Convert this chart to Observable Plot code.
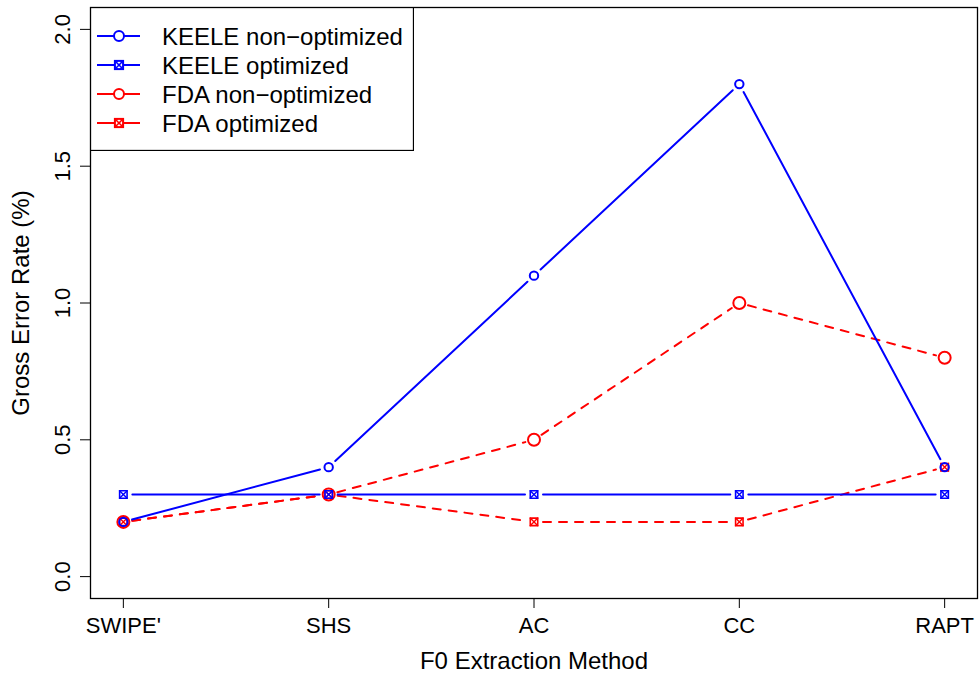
<!DOCTYPE html>
<html><head><meta charset="utf-8">
<script src="https://cdn.jsdelivr.net/npm/d3@7"></script>
<script src="https://cdn.jsdelivr.net/npm/@observablehq/plot@0.6"></script>
<style>
body{margin:0;background:#fff;}
#wrap{position:relative;width:980px;height:677px;font-family:"Liberation Sans",Arial,sans-serif;}
#legend{position:absolute;left:90px;top:7px;}
</style>
</head><body><div id="wrap"></div>
<script>
const methods = ["SWIPE'", "SHS", "AC", "CC", "RAPT"];
const keeleNonOpt = [0.2, 0.4, 1.1, 1.8, 0.4];
const keeleOpt = [0.3, 0.3, 0.3, 0.3, 0.3];
const fdaNonOpt = [0.2, 0.3, 0.5, 1.0, 0.8];
const fdaOpt = [0.2, 0.3, 0.2, 0.2, 0.4];
const seriesNames = ["KEELE non\u2212optimized", "KEELE optimized", "FDA non\u2212optimized", "FDA optimized"];
const yTicks = [0, 0.5, 1.0, 1.5, 2.0];
const xTitle = "F0 Extraction Method";
const yTitle = "Gross Error Rate (%)";

const series = [
  {name: seriesNames[0], values: keeleNonOpt, color: "#0000ff", dash: null, marker: "circle", r: 4.2},
  {name: seriesNames[1], values: keeleOpt, color: "#0000ff", dash: null, marker: "boxx", r: 4.2},
  {name: seriesNames[2], values: fdaNonOpt, color: "#ff0000", dash: "8,8", marker: "circle", r: 6},
  {name: seriesNames[3], values: fdaOpt, color: "#ff0000", dash: "8,8", marker: "boxx", r: 4.2}
];

const W = 980, H = 677, mL = 90, mR = 3, mT = 7, mB = 79;
const xDom = [-0.16, methods.length - 1 + 0.16];
const yDom = [-0.08, 2.08];
const kx = (W - mL - mR) / (xDom[1] - xDom[0]);
const ky = (H - mT - mB) / (yDom[1] - yDom[0]);
const GAP = 9;

function segments(vals) {
  const segs = [];
  for (let k = 0; k < vals.length - 1; k++) {
    const v0 = vals[k], v1 = vals[k + 1];
    const len = Math.hypot(kx, (v1 - v0) * ky);
    if (len <= 2 * GAP) continue;
    const t = GAP / len;
    segs.push({x1: k + t, y1: v0 + t * (v1 - v0), x2: k + 1 - t, y2: v1 - t * (v1 - v0)});
  }
  return segs;
}
const pts = s => s.values.map((v, i) => ({i, v}));
const idx = methods.map((_, i) => i);

const lineMarks = [];
for (const s of [series[2], series[3], series[0], series[1]]) {
  lineMarks.push(Plot.link(segments(s.values), {x1: "x1", y1: "y1", x2: "x2", y2: "y2",
    stroke: s.color, strokeWidth: 2, strokeDasharray: s.dash, strokeLinecap: "round"}));
}
const markerMarks = [];
for (const s of [series[2], series[3], series[0], series[1]]) {
  if (s.marker === "circle") {
    markerMarks.push(Plot.dot(pts(s), {x: "i", y: "v", r: s.r, stroke: s.color, fill: "none", strokeWidth: 2}));
  } else {
    markerMarks.push(Plot.dot(pts(s), {x: "i", y: "v", r: s.r, symbol: "square", stroke: s.color, fill: "none", strokeWidth: 1.6}));
    markerMarks.push(Plot.dot(pts(s), {x: "i", y: "v", r: s.r * 0.9, symbol: "times", stroke: s.color, strokeWidth: 1.4}));
  }
}

const plot = Plot.plot({
  width: W, height: H,
  marginLeft: mL, marginRight: mR, marginTop: mT, marginBottom: mB,
  style: {fontFamily: "'Liberation Sans', Arial, sans-serif", fontSize: "22px", background: "#fff", overflow: "visible"},
  x: {type: "linear", domain: xDom},
  y: {type: "linear", domain: yDom},
  marks: [
    Plot.axisX({ticks: idx, tickSize: 10, tickFormat: () => "", label: null, stroke: "#000", strokeWidth: 1}),
    Plot.axisY({ticks: yTicks, tickSize: 10, tickFormat: () => "", label: null, stroke: "#000", strokeWidth: 1}),
    Plot.text(idx, {x: d => d, frameAnchor: "bottom", dy: 27, text: d => methods[d], lineAnchor: "middle", textAnchor: "middle", fontSize: 22, fill: "#000"}),
    Plot.text(yTicks, {y: d => d, frameAnchor: "left", dx: -28, rotate: -90, text: d => d3.format(".1f")(d), lineAnchor: "middle", textAnchor: "middle", fontSize: 22, fill: "#000"}),
    Plot.text([xTitle], {frameAnchor: "bottom", dy: 63, text: d => d, lineAnchor: "middle", textAnchor: "middle", fontSize: 24, fill: "#000"}),
    Plot.text([yTitle], {frameAnchor: "left", dx: -69, rotate: -90, text: d => d, lineAnchor: "middle", textAnchor: "middle", fontSize: 24, fill: "#000"}),
    ...lineMarks,
    ...markerMarks,
    Plot.frame({stroke: "#000", strokeWidth: 1.3})
  ]
});
document.getElementById("wrap").appendChild(plot);

// Legend (drawn as an overlay)
const LW = 323, LH = 143, rowH = 29, row0 = 29;
const leg = d3.select("#wrap").append("svg").attr("id", "legend")
  .attr("width", LW + 1).attr("height", LH + 1);
leg.append("rect").attr("x", 0.5).attr("y", 0.5).attr("width", LW).attr("height", LH)
  .attr("fill", "#fff").attr("stroke", "#000").attr("stroke-width", 1.3);
series.forEach((s, i) => {
  const y = row0 + i * rowH;
  const g = leg.append("g").attr("transform", `translate(0,${y})`);
  g.append("line").attr("x1", 7).attr("x2", 50).attr("y1", 0).attr("y2", 0)
    .attr("stroke", s.color).attr("stroke-width", 2);
  if (s.marker === "circle") {
    g.append("circle").attr("cx", 29).attr("cy", 0).attr("r", 5).attr("fill", "#fff")
      .attr("stroke", s.color).attr("stroke-width", 2);
  } else {
    const h = 4.2;
    g.append("rect").attr("x", 29 - h).attr("y", -h).attr("width", 2 * h).attr("height", 2 * h)
      .attr("fill", "#fff").attr("stroke", s.color).attr("stroke-width", 1.8);
    g.append("path").attr("d", `M${29 - h},${-h}L${29 + h},${h}M${29 - h},${h}L${29 + h},${-h}`)
      .attr("stroke", s.color).attr("stroke-width", 1.6);
    g.append("circle").attr("cx", 29).attr("cy", 0).attr("r", 4).attr("fill", "none")
      .attr("stroke", s.color).attr("stroke-width", 1.2);
  }
  g.append("text").attr("x", 72).attr("y", 0).attr("dy", "0.36em")
    .attr("font-family", "'Liberation Sans', Arial, sans-serif").attr("font-size", 24)
    .attr("fill", "#000").text(s.name);
});
</script>
</body></html>
